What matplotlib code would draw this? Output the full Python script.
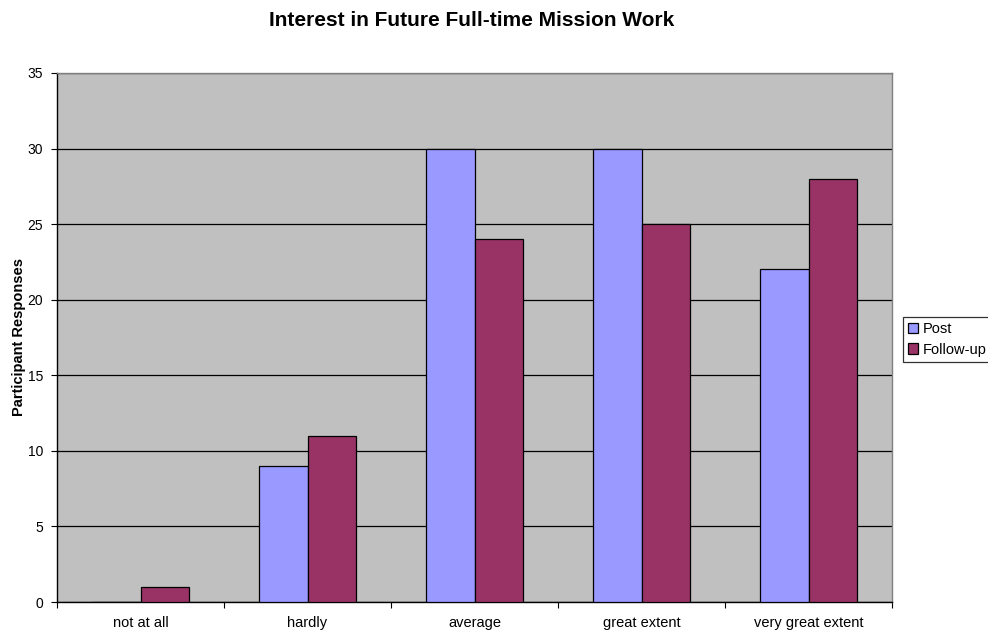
import numpy as np
import matplotlib
matplotlib.use("Agg")
import matplotlib.pyplot as plt

plt.rcParams['font.family'] = ['Liberation Sans', 'DejaVu Sans']

categories = ["not at all", "hardly", "average", "great extent", "very great extent"]
post = [0, 9, 30, 30, 22]
follow_up = [1, 11, 24, 25, 28]
y_ticks = [0, 5, 10, 15, 20, 25, 30, 35]

W, H = 988, 632
fig = plt.figure(figsize=(W / 100, H / 100), dpi=100)
fig.patch.set_facecolor("white")

# plot area in pixel coords
left, right, top, bottom = 57, 892, 73, 602
ax = fig.add_axes([left / W, 1 - bottom / H, (right - left) / W, (bottom - top) / H])
ax.set_facecolor("#C0C0C0")

x = np.arange(len(categories))
bw = 0.2875
ax.bar(x - bw / 2, post, bw, color="#9999FF", edgecolor="black", linewidth=0.9, label="Post", zorder=3)
ax.bar(x + bw / 2, follow_up, bw, color="#993366", edgecolor="black", linewidth=0.9, label="Follow-up", zorder=3)

ax.set_xlim(-0.5, len(categories) - 0.5)
ax.set_ylim(0, 35)
ax.set_yticks(y_ticks)
ax.set_yticklabels([str(v) for v in y_ticks], fontsize=10)
ax.yaxis.grid(True, color="black", linewidth=0.9, zorder=1)
ax.set_axisbelow(True)

# category labels sit between the boundary ticks
ax.set_xticks(np.arange(len(categories) + 1) - 0.5)
ax.set_xticklabels([])
ax.set_xticks(x, minor=True)
ax.set_xticklabels(categories, minor=True, fontsize=10.5)
ax.tick_params(axis="x", which="minor", length=0, pad=10)
ax.tick_params(axis="x", which="major", length=4, direction="out", color="black")
ax.tick_params(axis="y", length=4, direction="out", color="black", pad=6)

for s in ["top", "right"]:
    ax.spines[s].set_color("#808080")
    ax.spines[s].set_linewidth(1.0)
for s in ["left", "bottom"]:
    ax.spines[s].set_color("black")
    ax.spines[s].set_linewidth(1.0)

fig.text(18.5 / W, 1 - (top + bottom) / 2 / H, "Participant Responses", rotation=90,
         ha="center", va="center", fontsize=10.5, fontweight="bold")

fig.text(472 / W, 1 - 21 / H, "Interest in Future Full-time Mission Work",
         ha="center", va="center", fontsize=15, fontweight="bold")

# legend runs off the right edge of the figure
leg = fig.legend(loc="upper left", bbox_to_anchor=(903 / W, 1 - 317 / H), fontsize=10.5,
                 frameon=True, fancybox=False, shadow=False, handlelength=0.7, handleheight=0.7,
                 handletextpad=0.3, borderpad=0.35, labelspacing=0.45, borderaxespad=0)
leg.get_frame().set_edgecolor("black")
leg.get_frame().set_linewidth(0.9)

fig.savefig("out.png", dpi=100)
